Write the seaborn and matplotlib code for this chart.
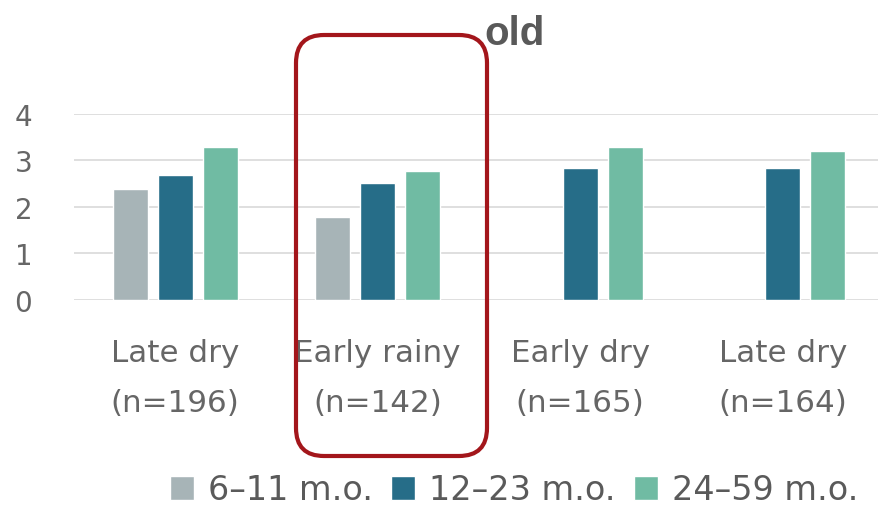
import matplotlib
matplotlib.use("Agg")
import matplotlib.pyplot as plt
from matplotlib.patches import FancyBboxPatch
import seaborn as sns
import pandas as pd

# Mean values by season and age group (None = no bar for that group)
seasons = ["Late dry\n(n=196)", "Early rainy\n(n=142)", "Early dry\n(n=165)", "Late dry\n(n=164)"]
age_groups = ["6–11 m.o.", "12–23 m.o.", "24–59 m.o."]
vals_6_11 = [2.39, 1.78, None, None]
vals_12_23 = [2.69, 2.51, 2.84, 2.83]
vals_24_59 = [3.28, 2.78, 3.28, 3.21]
y_ticks = [0, 1, 2, 3, 4]

colors = ["#a7b4b7", "#266d88", "#70bba3"]

rows = []
for grp, series in zip(age_groups, [vals_6_11, vals_12_23, vals_24_59]):
    for season, v in zip(seasons, series):
        if v is not None:
            rows.append({"season": season, "age": grp, "value": v})
df = pd.DataFrame(rows)

sns.set_style("white")
plt.rcParams["font.family"] = ["DejaVu Sans"]

W, H = 879, 506
fig = plt.figure(figsize=(W / 100, H / 100), dpi=100)
ax = fig.add_axes([74 / W, 1 - 300.7 / H, 810 / W, (300.7 - 115) / H])

sns.barplot(data=df, x="season", y="value", hue="age", order=seasons,
            hue_order=age_groups, palette=colors, width=0.667, gap=0.22,
            errorbar=None, ax=ax, saturation=1)

ax.set_xlim(-0.5, 3.5)
ax.set_ylim(0, 4)
ax.set_yticks(y_ticks)
ax.set_xlabel("")
ax.set_ylabel("")
for s in ax.spines.values():
    s.set_visible(False)
ax.yaxis.grid(True, color="#d9d9d9", linewidth=1.2)
ax.set_axisbelow(True)
ax.tick_params(axis="y", length=0, pad=30, labelsize=20, labelcolor="#666666")
ax.tick_params(axis="x", length=0, pad=27.5, labelsize=22.3, labelcolor="#666666")
for lab in ax.get_xticklabels():
    lab.set_linespacing(1.92)

sns.move_legend(ax, loc="center left", bbox_to_anchor=(170 / W, 1 - 491 / H),
                bbox_transform=fig.transFigure, ncol=3, frameon=False, title=None,
                borderpad=0, borderaxespad=0, handlelength=0.72, handleheight=0.72,
                handletextpad=0.42, columnspacing=0.55, fontsize=24)
for t in ax.get_legend().get_texts():
    t.set_color("#5a5a5a")

fig.text(515 / W, 1 - 45 / H, "old", ha="center", va="baseline",
         fontsize=29, fontweight="bold", color="#595959", family="Liberation Sans")

# Highlight frame around the early rainy season
box = FancyBboxPatch((2.96, 0.49), 4.87 - 2.96, 4.70 - 0.49,
                     boxstyle="round,pad=0,rounding_size=0.28",
                     transform=fig.dpi_scale_trans, fill=False,
                     edgecolor="#a3161b", linewidth=3.0, zorder=10)
fig.add_artist(box)

fig.savefig("out.png", dpi=100)
